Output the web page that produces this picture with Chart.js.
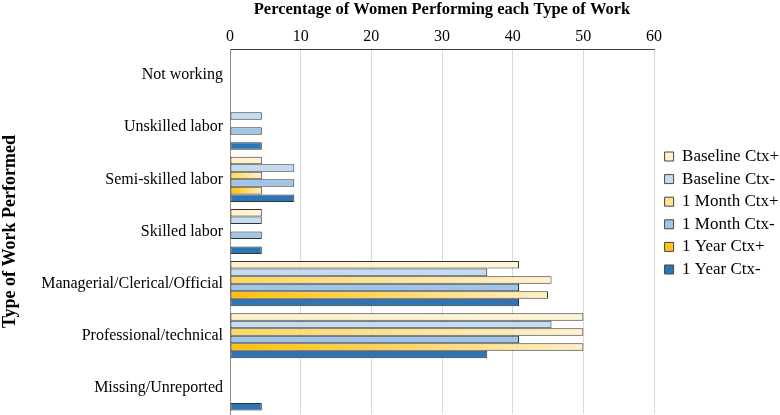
<!DOCTYPE html>
<html>
<head>
<meta charset="UTF-8">
<title>Type of Work Performed</title>
<script src="https://cdn.jsdelivr.net/npm/chart.js"></script>
<style>
    body { margin: 0; background: #fff; }
    .chart-box { width: 780px; height: 415px; }
</style>
</head>
<body>
<div class="chart-box"><canvas id="workChart" width="780" height="415"></canvas></div>
<script>
// categories, top to bottom
const categories = [
    'Not working',
    'Unskilled labor',
    'Semi-skilled labor',
    'Skilled labor',
    'Managerial/Clerical/Official',
    'Professional/technical',
    'Missing/Unreported'
];
const xTicks = [0, 10, 20, 30, 40, 50, 60];

// percentages per series
const baselinePos = [0, 0, 4.5, 4.5, 40.9, 50, 0];
const baselineNeg = [0, 4.5, 9.1, 4.5, 36.4, 45.5, 0];
const monthPos    = [0, 0, 4.5, 0, 45.5, 50, 0];
const monthNeg    = [0, 4.5, 9.1, 4.5, 40.9, 40.9, 0];
const yearPos     = [0, 0, 4.5, 0, 45, 50, 0];
const yearNeg     = [0, 4.5, 9.1, 4.5, 40.9, 36.4, 4.5];

const serif = "'Liberation Serif', 'Times New Roman', serif";

// gradient from left (start) to the bar end (end)
function barFill(start, end) {
    return function (ctx) {
        const chart = ctx.chart;
        if (!chart.chartArea || ctx.type !== 'data' || !chart.scales.x) return end;
        const x = chart.scales.x;
        const x0 = x.getPixelForValue(0);
        const x1 = x.getPixelForValue(ctx.raw || 0);
        if (x1 - x0 < 1) return end;
        const g = chart.ctx.createLinearGradient(x0, 0, x1, 0);
        g.addColorStop(0, start);
        g.addColorStop(1, end);
        return g;
    };
}

function series(label, data, fill, swatch) {
    return {
        label: label,
        data: data,
        backgroundColor: fill,
        swatch: swatch,
        borderColor: '#333333',
        borderWidth: (ctx) => (ctx.raw ? 1 : 0),
        borderSkipped: false
    };
}

const datasets = [
    series('Baseline Ctx+', baselinePos, barFill('#fff0c8', '#fff4d6'), '#fff2cc'),
    series('Baseline Ctx-', baselineNeg, '#c5dbef', '#c5dbef'),
    series('1 Month Ctx+', monthPos, barFill('#ffd757', '#fff2cc'), '#ffe393'),
    series('1 Month Ctx-', monthNeg, '#a2c4e6', '#a2c4e6'),
    series('1 Year Ctx+', yearPos, barFill('#ffc000', '#fff0c4'), '#ffc61a'),
    series('1 Year Ctx-', yearNeg, '#2e75b6', '#2e75b6')
];

// legend: fixed width and nudged right, like the original
const legendPlace = {
    id: 'legendPlace',
    beforeLayout(chart) {
        const lg = chart.legend;
        if (lg && !lg._fixed) {
            const fit = lg.fit;
            lg.fit = function () { fit.call(this); this.width = 126; };
            lg._fixed = true;
        }
    },
    afterLayout(chart) {
        const lg = chart.legend;
        if (lg) { lg.left += 5; lg.right += 5; }
    }
};

new Chart(document.getElementById('workChart'), {
    type: 'bar',
    data: { labels: categories, datasets: datasets },
    plugins: [legendPlace],
    options: {
        indexAxis: 'y',
        responsive: false,
        animation: false,
        layout: { padding: { left: 0, right: 0, top: 0, bottom: 1 } },
        datasets: {
            bar: { categoryPercentage: 0.865, barPercentage: 1.0 }
        },
        plugins: {
            tooltip: { enabled: false },
            legend: {
                position: 'right',
                title: { display: true, text: '', font: { size: 10 }, padding: 0 },
                labels: {
                    boxWidth: 9,
                    boxHeight: 9,
                    padding: 5.6,
                    color: '#000',
                    font: { family: serif, size: 17 },
                    generateLabels: (chart) => chart.data.datasets.map((ds, i) => ({
                        text: ds.label,
                        fillStyle: ds.swatch,
                        strokeStyle: '#444',
                        lineWidth: 1,
                        fontColor: '#000',
                        datasetIndex: i
                    }))
                }
            }
        },
        scales: {
            x: {
                position: 'top',
                min: 0,
                max: 60,
                afterBuildTicks: (axis) => { axis.ticks = xTicks.map(v => ({ value: v })); },
                afterFit: (axis) => { axis.height = 49; },
                ticks: { color: '#000', font: { family: serif, size: 16 }, padding: 3 },
                grid: { color: '#d9d9d9', drawTicks: false },
                border: { display: true, color: '#404040' },
                title: {
                    display: true,
                    text: 'Percentage of Women Performing each Type of Work',
                    color: '#000',
                    font: { family: serif, size: 16.5, weight: 'bold' },
                    padding: { top: 0, bottom: 4 }
                }
            },
            y: {
                afterFit: (axis) => {
                    axis.width = 230;
                    axis.paddingTop = 0;
                    axis.paddingBottom = 0;
                },
                grid: { display: false, drawTicks: false },
                border: { display: true, color: '#8c8c8c' },
                ticks: { color: '#000', font: { family: serif, size: 16 }, padding: 7 },
                title: {
                    display: true,
                    text: 'Type of Work Performed',
                    color: '#000',
                    font: { family: serif, size: 18, weight: 'bold' },
                    padding: { top: 0, bottom: 4 }
                }
            }
        }
    }
});
</script>
</body>
</html>
